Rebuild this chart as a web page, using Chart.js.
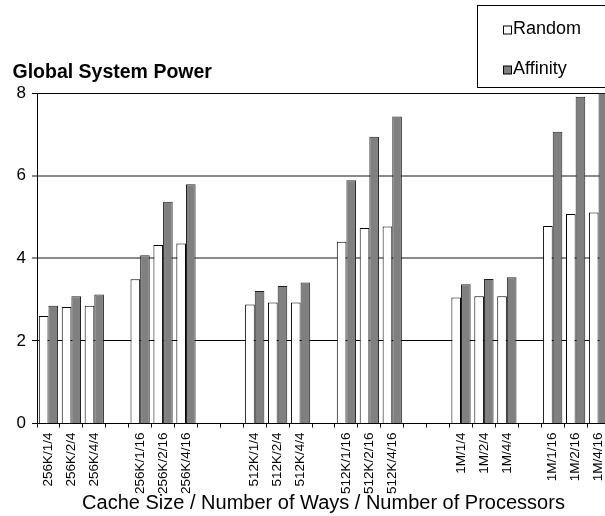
<!DOCTYPE html>
<html>
<head>
<meta charset="utf-8">
<script src="https://cdn.jsdelivr.net/npm/chart.js@4/dist/chart.umd.min.js"></script>
<style>
  html, body { margin: 0; padding: 0; background: #fff; overflow: hidden; }
  #wrap { width: 605px; height: 516px; overflow: hidden; }
</style>
</head>
<body>
<div id="wrap"><canvas id="powerChart" width="620" height="516"></canvas></div>
<script>
  // Category labels, empty strings are the spacer slots between groups
  const categories = [
    '256K/1/4', '256K/2/4', '256K/4/4', '',
    '256K/1/16', '256K/2/16', '256K/4/16', '', '',
    '512K/1/4', '512K/2/4', '512K/4/4', '',
    '512K/1/16', '512K/2/16', '512K/4/16', '', '',
    '1M/1/4', '1M/2/4', '1M/4/4', '',
    '1M/1/16', '1M/2/16', '1M/4/16'
  ];

  const randomValues = [
    2.60, 2.82, 2.85, null,
    3.49, 4.32, 4.36, null, null,
    2.88, 2.93, 2.93, null,
    4.40, 4.73, 4.77, null, null,
    3.05, 3.08, 3.08, null,
    4.78, 5.07, 5.11
  ];

  const affinityValues = [
    2.85, 3.08, 3.12, null,
    4.07, 5.37, 5.79, null, null,
    3.21, 3.33, 3.41, null,
    5.89, 6.94, 7.43, null, null,
    3.37, 3.50, 3.54, null,
    7.06, 7.91, 8.00
  ];

  const yTicks = [0, 2, 4, 6, 8];

  const chartTitle = 'Global System Power';
  const xAxisTitle = 'Cache Size / Number of Ways / Number of Processors';

  const fontFamily = 'Arial, "Liberation Sans", sans-serif';
  Chart.defaults.font.family = fontFamily;
  Chart.defaults.color = '#000';

  // Title and boxed legend, drawn where the original puts them
  const decorations = {
    id: 'decorations',
    afterDraw(chart) {
      const ctx = chart.ctx;
      ctx.save();
      ctx.fillStyle = '#000';
      ctx.font = 'bold 19.5px ' + fontFamily;
      ctx.textBaseline = 'alphabetic';
      ctx.textAlign = 'left';
      ctx.fillText(chartTitle, 12.5, 78);

      // legend box
      ctx.fillStyle = '#fff';
      ctx.fillRect(477.5, 5.5, 200, 82);
      ctx.strokeStyle = '#000';
      ctx.lineWidth = 1;
      ctx.strokeRect(477.5, 5.5, 200, 82);

      const rows = [33.5, 73.5];
      ctx.font = '18px ' + fontFamily;
      chart.data.datasets.forEach((ds, i) => {
        const base = rows[i];
        ctx.fillStyle = ds.backgroundColor;
        ctx.fillRect(503.5, base - 7.5, 8, 8);
        ctx.strokeStyle = '#000';
        ctx.strokeRect(503.5, base - 7.5, 8, 8);
        ctx.fillStyle = '#000';
        ctx.fillText(ds.label, 513, base);
      });
      ctx.restore();
    }
  };

  const ctx = document.getElementById('powerChart');

  new Chart(ctx, {
    type: 'bar',
    data: {
      labels: categories,
      datasets: [
        {
          label: 'Random',
          data: randomValues,
          backgroundColor: '#ffffff',
          borderColor: '#000000',
          borderWidth: 1
        },
        {
          label: 'Affinity',
          data: affinityValues,
          backgroundColor: '#808080',
          borderColor: '#202020',
          borderWidth: 1
        }
      ]
    },
    options: {
      responsive: false,
      animation: false,
      devicePixelRatio: 1,
      layout: {
        padding: { left: 0, top: 93, right: 10, bottom: 0 }
      },
      plugins: {
        legend: { display: false },
        title: { display: false },
        tooltip: { enabled: false }
      },
      datasets: {
        bar: {
          barPercentage: 1.0,
          categoryPercentage: 0.84
        }
      },
      scales: {
        x: {
          grid: {
            offset: true,
            drawOnChartArea: false,
            drawTicks: true,
            tickLength: 4,
            color: '#000'
          },
          border: { display: true, color: '#000', width: 1 },
          ticks: {
            autoSkip: false,
            minRotation: 90,
            maxRotation: 90,
            padding: 5,
            font: { size: 13.5 },
            color: '#000'
          },
          title: {
            display: true,
            text: xAxisTitle,
            font: { size: 20 },
            color: '#000',
            padding: { top: 0, bottom: 1 }
          },
          afterFit(scale) {
            scale.height = 92.5;
          }
        },
        y: {
          min: 0,
          max: 8,
          afterBuildTicks(scale) {
            scale.ticks = yTicks.map(v => ({ value: v }));
          },
          grid: {
            drawTicks: true,
            tickLength: 5,
            color: c => (c.tick && (c.tick.value === 4 || c.tick.value === 6)) ? '#8a8a8a' : '#000',
            lineWidth: c => (c.tick && (c.tick.value === 4 || c.tick.value === 6)) ? 2 : 1
          },
          border: { display: true, color: '#000', width: 1 },
          ticks: {
            padding: 6,
            font: { size: 17 },
            color: '#000'
          },
          afterFit(scale) {
            scale.width = 37;
          }
        }
      }
    },
    plugins: [decorations]
  });
</script>
</body>
</html>
